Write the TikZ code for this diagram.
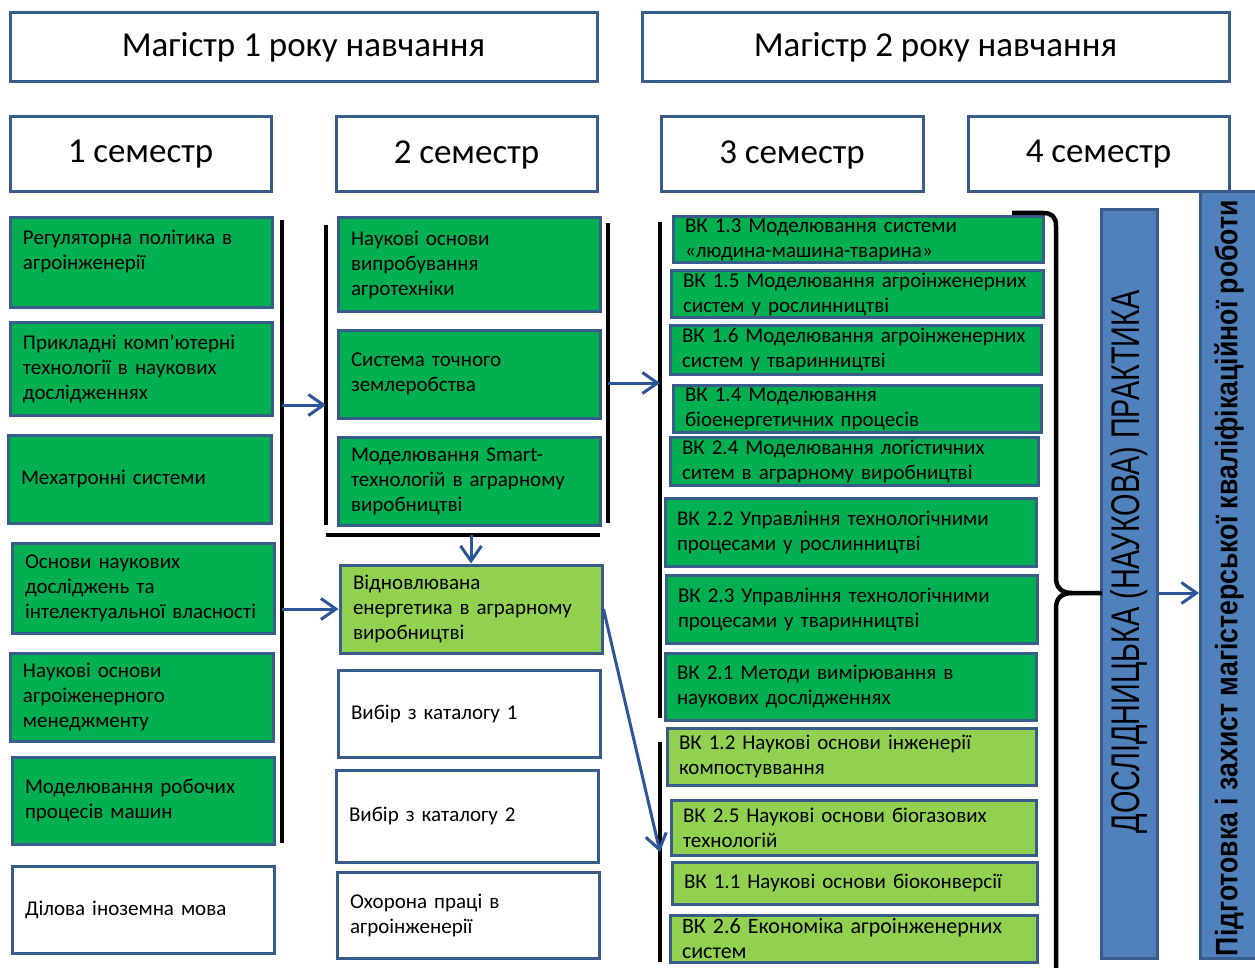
\documentclass[tikz,border=0pt]{standalone}
\usepackage{fontspec}
\usepackage{graphicx}
\setmainfont{Carlito}
\newfontfamily\narrowfont{Liberation Sans}
\usepackage{tikz}
\usetikzlibrary{arrows.meta}
\definecolor{boxline}{HTML}{385D8A}
\definecolor{darkgreen}{HTML}{00B050}
\definecolor{lightgreen}{HTML}{92D050}
\definecolor{practiceblue}{HTML}{4F81BD}
\definecolor{arrowblue}{HTML}{2E5597}
\tikzset{
	every block/.style={draw=boxline, line width=3pt, inner sep=0pt, align=left,
		font=\fontsize{21}{25}\selectfont},
	every header/.style={draw=boxline, line width=3pt, inner sep=0pt, fill=white,
		font=\fontsize{35}{37}\selectfont},
	green box/.style={fill=darkgreen},
	lime box/.style={fill=lightgreen},
	blank box/.style={fill=white},
	bar/.style={line width=4pt, black},
	flow/.style={-{Straight Barb[length=15pt,width=21pt]}, line width=3pt, arrowblue}
}

\begin{document}
\begin{tikzpicture}[x=1pt, y=-1pt]
		\useasboundingbox (0,0) rectangle (1255,968);

		% years
		\foreach \xa/\xb/\t [count=\i] in {10/597/Магістр 1 року навчання, 642/1229/Магістр 2 року навчання} {
			\node [every header/.try, minimum width={(\xb-\xa)*1pt}, minimum height=69pt]
				(year-\i) at ({(\xa+\xb)/2},47.5) {\t};
		};
		% semesters
		\foreach \xa/\xb [count=\i] in {10/271, 336/597, 661/923, 968/1229} {
			\node [every header/.try, minimum width={(\xb-\xa)*1pt}, minimum height=75pt]
				(sem-\i) at ({(\xa+\xb)/2},154.5) {\i{} семестр};
		};

		% 1 semester
		\foreach \xa/\ya/\xb/\yb/\s/\t [count=\i] in {
			10/218/272/307/green box/{Регуляторна політика в\\агроінженерії\\\mbox{}},
			10/322/272/415/green box/{Прикладні комп’ютерні\\технології в наукових\\дослідженнях},
			8/435/271/523/green box/{Мехатронні системи},
			12/543/274/633/green box/{Основи наукових\\досліджень та\\інтелектуальної власності},
			10/653/273/741/green box/{Наукові основи\\агроіженерного\\менеджменту},
			12/757/274/844/green box/{Моделювання робочих\\процесів машин},
			12/866/274/953/blank box/{Ділова іноземна мова}} {
			\pgfmathsetmacro\w{\xb-\xa}
			\pgfmathsetmacro\h{\yb-\ya}
			\pgfmathsetmacro\tw{\xb-\xa-26}
			\node [every block/.try, \s/.try, minimum width=\w pt, minimum height=\h pt,
				text width=\tw pt] (l-\i) at ({(\xa+\xb)/2},{(\ya+\yb)/2}) {\t};
		};

		% 2 semester
		\foreach \xa/\ya/\xb/\yb/\s/\t [count=\i] in {
			338/218/600/311/green box/{Наукові основи\\випробування\\агротехніки},
			338/330/600/418/green box/{Система точного\\землеробства},
			338/437/600/525/green box/{Моделювання Smart-\\технологій в аграрному\\виробництві},
			340/565/602/653/lime box/{Відновлювана\\енергетика в аграрному\\виробництві},
			338/670/600/757/blank box/{Вибір з каталогу 1},
			336/770/598/862/blank box/{Вибір з каталогу 2},
			337/872/599/958/blank box/{Охорона праці в\\агроінженерії}} {
			\pgfmathsetmacro\w{\xb-\xa}
			\pgfmathsetmacro\h{\yb-\ya}
			\pgfmathsetmacro\tw{\xb-\xa-26}
			\node [every block/.try, \s/.try, minimum width=\w pt, minimum height=\h pt,
				text width=\tw pt] (m-\i) at ({(\xa+\xb)/2},{(\ya+\yb)/2}) {\t};
		};

		% 3 semester
		\foreach \xa/\ya/\xb/\yb/\s/\t [count=\i] in {
			673/217/1043/263/green box/{ВК 1.3 Моделювання системи\\«людина-машина-тварина»},
			671/271/1043/317/green box/{ВК 1.5 Моделювання агроінженерних\\систем у рослинництві},
			670/325/1041/374/green box/{ВК 1.6 Моделювання агроінженерних\\систем у тваринництві},
			673/385/1041/432/green box/{ВК 1.4 Моделювання\\біоенергетичних процесів},
			670/437/1038/485/green box/{ВК 2.4 Моделювання логістичних\\ситем в аграрному виробництві},
			665/498/1036/566/green box/{ВК 2.2 Управління технологічними\\процесами у рослинництві},
			666/575/1037/643/green box/{ВК 2.3 Управління технологічними\\процесами у тваринництві},
			665/653/1036/720/green box/{ВК 2.1 Методи вимірювання в\\наукових дослідженнях},
			667/728/1036/785/lime box/{ВК 1.2 Наукові основи інженерії\\компостуввання},
			671/800/1036/855/lime box/{ВК 2.5 Наукові основи біогазових\\технологій},
			672/862/1037/904/lime box/{ВК 1.1 Наукові основи біоконверсії},
			670/915/1037/962/lime box/{\fontsize{22}{24}\selectfont ВК 2.6 Економіка агроінженерних\\систем}} {
			\pgfmathsetmacro\w{\xb-\xa}
			\pgfmathsetmacro\h{\yb-\ya}
			\pgfmathsetmacro\tw{\xb-\xa-24}
			\node [every block/.try, \s/.try, minimum width=\w pt, minimum height=\h pt,
				text width=\tw pt] (r-\i) at ({(\xa+\xb)/2},{(\ya+\yb)/2}) {\t};
		};

		% 4 semester
		\node [every block/.try, fill=practiceblue, minimum width=56pt, minimum height=749pt]
			(practice) at (1129.5,584) {};
		\node [rotate=90, inner sep=0pt, font=\narrowfont\fontsize{40}{40}\selectfont]
			(practice-text) at (1129,562) {\scalebox{0.72}[1]{ДОСЛІДНИЦЬКА (НАУКОВА) ПРАКТИКА}};
		\node [every block/.try, fill=practiceblue, minimum width=62pt, minimum height=766pt]
			(thesis) at (1231.5,575) {};
		\node [rotate=90, inner sep=0pt, font=\narrowfont\bfseries\fontsize{31}{31}\selectfont]
			(thesis-text) at (1229,578) {\scalebox{0.86}[1]{Підготовка і захист магістерської кваліфікаційної роботи}};

		% bars
		\foreach \xa/\ya/\xb/\yb [count=\i] in {282/220/282/843, 326/225/326/525, 608/223/608/523,
			326/535/600/535, 660/222/660/718, 660/742/660/962} {
			\coordinate (bar-\i-a) at (\xa,\ya);
			\coordinate (bar-\i-b) at (\xb,\yb);
			\draw [bar] (bar-\i-a) -- (bar-\i-b);
		};
		\coordinate (j-1) at (326,405);
		\coordinate (j-2) at (660,383);
		\coordinate (j-3) at (660,852);
		\coordinate (brace-tip) at (1102,593);

		% brace
		\draw [line width=4.5pt] (1012,213) -- (1043,213) .. controls (1052,213) and (1056,217) .. (1056,226)
			-- (1056,578) .. controls (1056,588) and (1062,593) .. (1072,593) -- (brace-tip);
		\draw [line width=4.5pt] (1072,593) .. controls (1062,593) and (1056,598) .. (1056,608) -- (1056,970);

		% arrows
		\draw [flow] (bar-1-a |- j-1) -- (j-1);
		\draw [flow] (bar-1-a |- m-4.west) -- (m-4.west);
		\draw [flow] (m-4.north |- bar-4-a) -- (m-4.north);
		\draw [flow] (bar-3-a |- j-2) -- (j-2);
		\draw [flow] (m-4.east) -- (j-3);
		\draw [flow] (practice.east |- brace-tip) -- (thesis.west |- brace-tip);
	\end{tikzpicture}
\end{document}
